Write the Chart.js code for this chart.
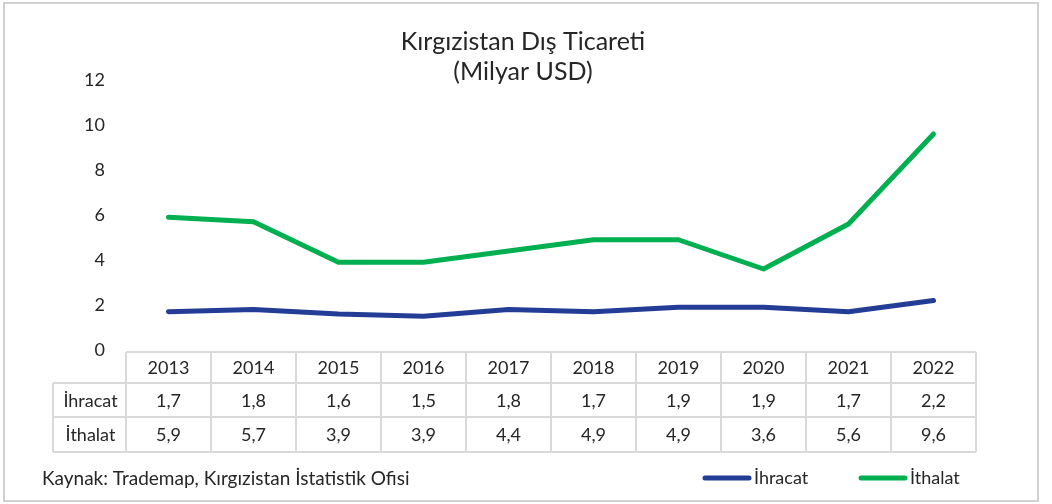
<!DOCTYPE html>
<html>
<head>
<meta charset="utf-8">
<script src="https://cdn.jsdelivr.net/npm/chart.js@4.4.1/dist/chart.umd.min.js"></script>
<style>
html,body{margin:0;padding:0;background:#fff;}
#wrap{position:relative;width:1052px;height:504px;}
</style>
</head>
<body>
<div id="wrap"><canvas id="c" width="1052" height="504"></canvas></div>
<script>
const years = ['2013','2014','2015','2016','2017','2018','2019','2020','2021','2022'];
const ihracat = [1.7,1.8,1.6,1.5,1.8,1.7,1.9,1.9,1.7,2.2];
const ithalat = [5.9,5.7,3.9,3.9,4.4,4.9,4.9,3.6,5.6,9.6];
const seriesNames = ['İhracat','İthalat'];
const yTicks = [0,2,4,6,8,10,12];
const titleLines = ['Kırgızistan Dış Ticareti','(Milyar USD)'];
const sourceText = 'Kaynak: Trademap, Kırgızistan İstatistik Ofisi';

const FONT = 'Lato, "Open Sans", sans-serif';
const TXT = '#262626';
const GRID = '#d9d9d9';
const BLUE = '#233C96';
const GREEN = '#00B050';

const fmt = v => String(v.toFixed(1)).replace('.', ',');

const tablePlugin = {
  id: 'tablePlugin',
  afterDraw(chart) {
    const ctx = chart.ctx;
    const x = chart.scales.x;
    const area = chart.chartArea;
    const n = years.length;
    const step = (area.right - area.left) / n;
    const left = area.left, right = area.right;
    const labelLeft = 53;
    const rowY = [area.bottom + 2, area.bottom + 33, area.bottom + 67, area.bottom + 102];
    ctx.save();
    // outer border
    ctx.strokeStyle = '#d0d0d0';
    ctx.lineWidth = 2;
    ctx.strokeRect(4, 3, 1034, 498);
    // table lines
    ctx.strokeStyle = GRID;
    ctx.lineWidth = 2;
    ctx.beginPath();
    ctx.moveTo(left, rowY[0]); ctx.lineTo(right, rowY[0]);
    for (let r = 1; r < 4; r++) { ctx.moveTo(labelLeft, rowY[r]); ctx.lineTo(right, rowY[r]); }
    for (let i = 0; i <= n; i++) {
      const xx = left + i * step;
      ctx.moveTo(xx, rowY[0]); ctx.lineTo(xx, rowY[3]);
    }
    ctx.moveTo(labelLeft, rowY[1]); ctx.lineTo(labelLeft, rowY[3]);
    ctx.stroke();
    // text
    ctx.fillStyle = TXT;
    ctx.font = '18px ' + FONT;
    ctx.textAlign = 'center';
    ctx.textBaseline = 'middle';
    years.forEach((y, i) => {
      const cx = x.getPixelForValue(i);
      ctx.fillText(y, cx, (rowY[0] + rowY[1]) / 2 + 1);
      ctx.fillText(fmt(ihracat[i]), cx, (rowY[1] + rowY[2]) / 2 + 1);
      ctx.fillText(fmt(ithalat[i]), cx, (rowY[2] + rowY[3]) / 2 + 1);
    });
    ctx.fillText(seriesNames[0], (labelLeft + left) / 2 + 1, (rowY[1] + rowY[2]) / 2 + 1);
    ctx.fillText(seriesNames[1], (labelLeft + left) / 2 + 1, (rowY[2] + rowY[3]) / 2 + 1);
    // source
    ctx.textAlign = 'left';
    ctx.font = '19px ' + FONT;
    ctx.fillText(sourceText, 42, 479);
    // legend
    const legY = 478;
    const items = [[703, BLUE, seriesNames[0]], [859, GREEN, seriesNames[1]]];
    ctx.lineCap = 'round';
    ctx.lineWidth = 5;
    items.forEach(([lx, col, name]) => {
      ctx.strokeStyle = col;
      ctx.beginPath(); ctx.moveTo(lx + 2, legY); ctx.lineTo(lx + 46, legY); ctx.stroke();
      ctx.fillStyle = TXT;
      ctx.font = '18px ' + FONT;
      ctx.fillText(name, lx + 51, legY);
    });
    // title
    ctx.textAlign = 'center';
    ctx.font = '25px ' + FONT;
    ctx.fillText(titleLines[0], 523, 42);
    ctx.fillText(titleLines[1], 523, 72);
    ctx.restore();
  }
};

new Chart(document.getElementById('c'), {
  type: 'line',
  data: {
    labels: years,
    datasets: [
      { label: seriesNames[0], data: ihracat, borderColor: BLUE, backgroundColor: BLUE, borderWidth: 5, pointRadius: 0, tension: 0, borderCapStyle: 'round', borderJoinStyle: 'round' },
      { label: seriesNames[1], data: ithalat, borderColor: GREEN, backgroundColor: GREEN, borderWidth: 5, pointRadius: 0, tension: 0, borderCapStyle: 'round', borderJoinStyle: 'round' }
    ]
  },
  options: {
    responsive: false,
    animation: false,
    devicePixelRatio: 1,
    layout: { padding: { left: 0, right: 76, top: 80, bottom: 154 } },
    plugins: { legend: { display: false }, title: { display: false }, tooltip: { enabled: false } },
    scales: {
      x: { type: 'category', display: false, offset: true },
      y: {
        min: 0, max: 12,
        afterBuildTicks: s => { s.ticks = yTicks.map(v => ({ value: v })); },
        afterFit: s => { s.width = 126; },
        grid: { display: false, drawTicks: false },
        border: { display: false },
        ticks: { color: TXT, font: { family: FONT, size: 18 }, padding: 21 }
      }
    }
  },
  plugins: [tablePlugin]
});
</script>
</body>
</html>
